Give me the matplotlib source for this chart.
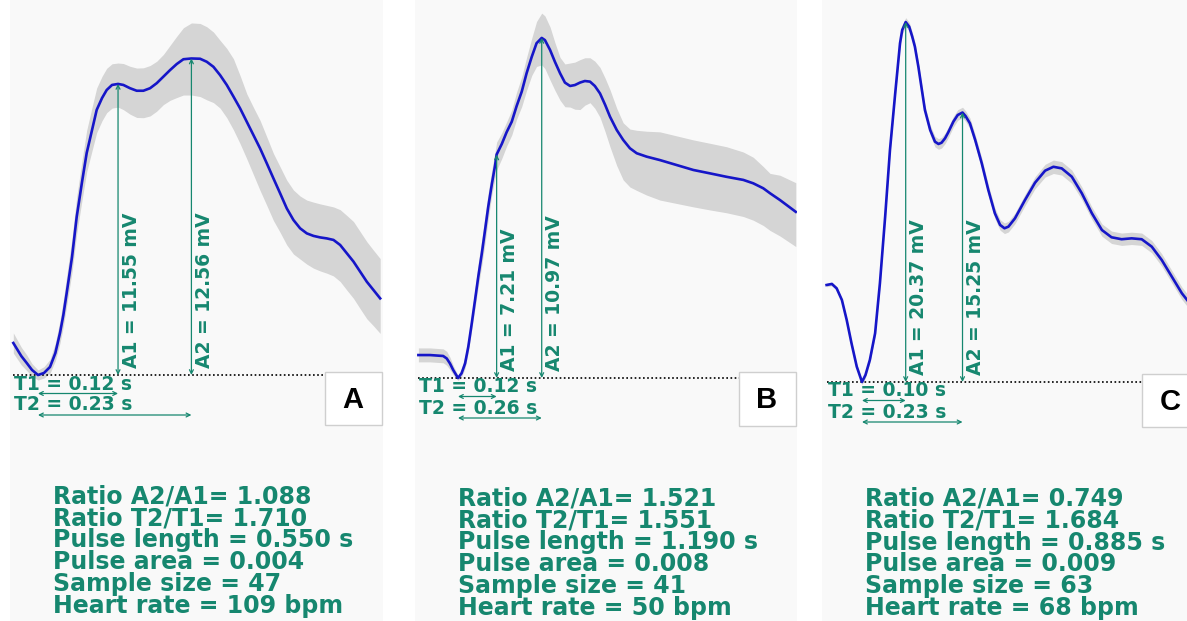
import matplotlib.pyplot as plt
from matplotlib import transforms
from matplotlib.patches import Rectangle

# ---- panel A : mean pulse (s, mV) with upper / lower band widths (mV) ----
a_t = [-0.037, -0.025, -0.017, -0.009, 0.0, 0.009, 0.018, 0.026, 0.033, 0.038,
       0.043, 0.051, 0.058, 0.066, 0.073, 0.081, 0.088, 0.096, 0.103, 0.111,
       0.12, 0.128, 0.138, 0.148, 0.158, 0.168, 0.178, 0.188, 0.198, 0.208,
       0.218, 0.23, 0.243, 0.253, 0.263, 0.273, 0.283, 0.293, 0.303, 0.313,
       0.323, 0.333, 0.343, 0.353, 0.363, 0.373, 0.383, 0.393, 0.403, 0.413,
       0.423, 0.433, 0.443, 0.453, 0.463, 0.473, 0.483, 0.493, 0.503, 0.513]
a_v = [1.27, 0.75, 0.48, 0.20, 0.0, 0.08, 0.32, 0.87, 1.67, 2.38,
       3.25, 4.68, 6.27, 7.66, 8.81, 9.72, 10.52, 10.99, 11.31, 11.51,
       11.55, 11.51, 11.38, 11.28, 11.28, 11.38, 11.58, 11.84, 12.10, 12.34,
       12.53, 12.56, 12.55, 12.43, 12.23, 11.90, 11.51, 11.05, 10.58, 10.05,
       9.52, 8.99, 8.40, 7.80, 7.21, 6.61, 6.15, 5.82, 5.62, 5.52,
       5.46, 5.42, 5.36, 5.16, 4.83, 4.50, 4.10, 3.70, 3.37, 3.04]
a_up = [0.40, 0.35, 0.32, 0.25, 0.20, 0.25, 0.30, 0.40, 0.50, 0.60,
        0.68, 0.75, 0.80, 0.85, 0.90, 0.90, 0.87, 0.86, 0.86, 0.84,
        0.83, 0.85, 0.87, 0.90, 0.91, 0.90, 0.87, 0.88, 0.98, 1.10,
        1.25, 1.41, 1.40, 1.39, 1.38, 1.38, 1.45, 1.50, 1.30, 1.11,
        1.10, 1.11, 1.05, 0.99, 1.05, 1.12, 1.19, 1.28, 1.32, 1.34,
        1.33, 1.31, 1.31, 1.40, 1.50, 1.59, 1.59, 1.59, 1.58, 1.58]
a_dn = [0.40, 0.35, 0.30, 0.25, 0.20, 0.20, 0.25, 0.30, 0.40, 0.45,
        0.50, 0.60, 0.67, 0.72, 0.75, 0.82, 0.90, 0.90, 0.90, 0.92,
        0.92, 0.98, 1.03, 1.06, 1.07, 1.10, 1.11, 1.11, 1.20, 1.33,
        1.42, 1.45, 1.50, 1.51, 1.42, 1.31, 1.30, 1.32, 1.40, 1.47,
        1.57, 1.67, 1.67, 1.67, 1.55, 1.45, 1.35, 1.22, 1.22, 1.28,
        1.33, 1.38, 1.43, 1.45, 1.46, 1.46, 1.47, 1.47, 1.42, 1.39]

# ---- panel B ----
b_t = [-0.123, -0.087, -0.046, -0.035, -0.025, -0.015, 0.0, 0.011, 0.022, 0.032,
       0.042, 0.053, 0.063, 0.074, 0.084, 0.094, 0.105, 0.115, 0.12, 0.136,
       0.151, 0.167, 0.182, 0.198, 0.213, 0.229, 0.244, 0.26, 0.270, 0.286,
       0.301, 0.317, 0.332, 0.348, 0.363, 0.379, 0.394, 0.410, 0.425, 0.441,
       0.457, 0.472, 0.493, 0.513, 0.534, 0.555, 0.586, 0.627, 0.679, 0.731,
       0.783, 0.834, 0.886, 0.917, 0.948, 0.969, 1.0, 1.049]
b_v = [0.74, 0.74, 0.71, 0.63, 0.47, 0.26, 0.0, 0.15, 0.47, 1.01,
       1.71, 2.52, 3.27, 4.02, 4.77, 5.53, 6.25, 6.85, 7.21, 7.55,
       7.93, 8.27, 8.77, 9.24, 9.83, 10.36, 10.80, 10.97, 10.90, 10.58,
       10.20, 9.83, 9.53, 9.42, 9.45, 9.53, 9.58, 9.56, 9.42, 9.18,
       8.81, 8.43, 8.00, 7.68, 7.41, 7.25, 7.14, 7.03, 6.87, 6.71,
       6.60, 6.49, 6.39, 6.28, 6.12, 5.96, 5.74, 5.36]
b_up = [0.23, 0.23, 0.23, 0.23, 0.20, 0.15, 0.08, 0.15, 0.25, 0.28,
        0.32, 0.38, 0.45, 0.46, 0.46, 0.46, 0.46, 0.44, 0.40, 0.36,
        0.33, 0.38, 0.45, 0.48, 0.51, 0.60, 0.70, 0.80, 0.78, 0.74,
        0.62, 0.51, 0.60, 0.74, 0.74, 0.74, 0.75, 0.77, 0.80, 0.84,
        0.86, 0.87, 0.70, 0.55, 0.62, 0.74, 0.82, 0.91, 0.94, 0.97,
        0.97, 0.97, 0.90, 0.84, 0.70, 0.64, 0.80, 0.94]
b_dn = [0.22, 0.22, 0.22, 0.22, 0.20, 0.15, 0.08, 0.12, 0.15, 0.18,
        0.20, 0.26, 0.32, 0.38, 0.42, 0.40, 0.34, 0.40, 0.50, 0.47,
        0.45, 0.43, 0.42, 0.48, 0.55, 0.60, 0.75, 0.87, 0.92, 0.97,
        0.92, 0.87, 0.78, 0.68, 0.78, 0.87, 0.78, 0.68, 0.72, 0.77,
        0.87, 0.97, 1.15, 1.29, 1.25, 1.20, 1.24, 1.29, 1.24, 1.19,
        1.18, 1.16, 1.18, 1.19, 1.20, 1.20, 1.16, 1.12]

# ---- panel C ----
c_t = [-0.081, -0.069, -0.058, -0.046, -0.035, -0.024, -0.012, 0.0, 0.008, 0.018,
       0.030, 0.041, 0.053, 0.064, 0.076, 0.087, 0.092, 0.10, 0.108, 0.115,
       0.121, 0.129, 0.137, 0.144, 0.156, 0.167, 0.175, 0.182, 0.190, 0.197,
       0.209, 0.219, 0.23, 0.237, 0.247, 0.259, 0.274, 0.289, 0.304, 0.316,
       0.326, 0.335, 0.350, 0.373, 0.396, 0.419, 0.438, 0.457, 0.480, 0.503,
       0.526, 0.549, 0.571, 0.594, 0.617, 0.640, 0.663, 0.686, 0.709, 0.732,
       0.744]
c_v = [5.49, 5.55, 5.30, 4.64, 3.51, 2.19, 0.87, 0.0, 0.40, 1.25,
       2.76, 5.59, 9.36, 13.13, 16.34, 19.17, 19.92, 20.37, 20.11, 19.54,
       18.98, 17.84, 16.53, 15.39, 14.26, 13.60, 13.47, 13.54, 13.79, 14.11,
       14.73, 15.11, 15.25, 15.05, 14.64, 13.70, 12.38, 10.87, 9.55, 8.89,
       8.70, 8.79, 9.26, 10.30, 11.28, 11.96, 12.18, 12.09, 11.62, 10.68,
       9.55, 8.60, 8.19, 8.08, 8.13, 8.08, 7.66, 6.90, 5.96, 5.02,
       4.64]
c_sd = [0.10, 0.10, 0.10, 0.10, 0.10, 0.12, 0.14, 0.15, 0.15, 0.15,
        0.18, 0.20, 0.20, 0.20, 0.22, 0.24, 0.25, 0.25, 0.25, 0.25,
        0.25, 0.25, 0.25, 0.26, 0.28, 0.30, 0.30, 0.30, 0.30, 0.30,
        0.30, 0.30, 0.30, 0.30, 0.30, 0.30, 0.30, 0.30, 0.30, 0.30,
        0.30, 0.30, 0.30, 0.32, 0.34, 0.36, 0.38, 0.38, 0.38, 0.36,
        0.35, 0.35, 0.35, 0.35, 0.35, 0.35, 0.35, 0.35, 0.35, 0.35,
        0.35]

names = ["A", "B", "C"]
t1 = [0.12, 0.12, 0.10]
t2 = [0.23, 0.26, 0.23]
amp1 = [11.55, 7.21, 20.37]
amp2 = [12.56, 10.97, 15.25]
ratio_a = ["1.088", "1.521", "0.749"]
ratio_t = ["1.710", "1.551", "1.684"]
pulse_len = ["0.550", "1.190", "0.885"]
pulse_area = ["0.004", "0.008", "0.009"]
sample_size = [47, 41, 63]
heart_rate = [109, 50, 68]

GREEN = "#16876f"
BLUE = "#1616c8"
W, H = 1187, 621

fig = plt.figure(figsize=(W / 100, H / 100), dpi=100)
fig.patch.set_facecolor("white")

# pixel geometry of each panel: column x0..x1, baseline row, t=0 column, px per s, px per mV
geom = [
    dict(x0=10, x1=383, base=375, tz=38, pps=667, ppm=25.2, box=(325, 372, 382, 425), txt=(53, 504, 21.7)),
    dict(x0=415, x1=797, base=378, tz=458, pps=322, ppm=31.0, box=(739, 372, 796, 426), txt=(458, 505, 22.0)),
    dict(x0=822, x1=1187, base=382, tz=862, pps=437, ppm=17.67, box=(1142, 374, 1200, 427), txt=(865, 506, 21.8)),
]

curves = [
    (a_t, a_v, a_up, a_dn),
    (b_t, b_v, b_up, b_dn),
    (c_t, c_v, c_sd, c_sd),
]

for i, g in enumerate(geom):
    ax = fig.add_axes([g["x0"] / W, 0, (g["x1"] - g["x0"]) / W, 1])
    ax.set_facecolor("#f9f9f9")
    for s in ax.spines.values():
        s.set_visible(False)
    ax.set_xticks([])
    ax.set_yticks([])
    ax.set_xlim((g["x0"] - g["tz"]) / g["pps"], (g["x1"] - g["tz"]) / g["pps"])
    ax.set_ylim((g["base"] - H) / g["ppm"], g["base"] / g["ppm"])

    t, v, up, dn = curves[i]
    ax.fill_between(t, [a - b for a, b in zip(v, dn)], [a + b for a, b in zip(v, up)],
                    color="#d5d5d5", lw=0, zorder=1)
    ax.plot(t, v, color=BLUE, lw=1.9, zorder=3, solid_joinstyle="round")

    # box with panel letter
    bx0, by0, bx1, by1 = g["box"]
    box_left = (bx0 - g["tz"]) / g["pps"]
    ax.hlines(0, t[0], box_left, colors="k", linestyles=(0, (1, 1.5)), lw=1.2, zorder=2)
    ax.add_patch(Rectangle((bx0 / W, 1 - by1 / H), (bx1 - bx0) / W, (by1 - by0) / H,
                           transform=fig.transFigure, facecolor="white",
                           edgecolor="#cfcfcf", lw=1, zorder=4, clip_on=False))
    fig.text((bx0 + 28) / W, 1 - ((by0 + by1) / 2 + 1) / H, names[i],
             family="Liberation Sans", weight="bold", fontsize=21,
             ha="center", va="center", zorder=5)

    arrow = dict(arrowstyle="<->", color=GREEN, lw=0.9, shrinkA=0, shrinkB=0, mutation_scale=7)

    # amplitude arrows and labels
    lab_tr = transforms.offset_copy(ax.transData, fig=fig, x=3.5, y=7, units="dots")
    for tp, amp, nm in [(t1[i], amp1[i], "A1"), (t2[i], amp2[i], "A2")]:
        ax.annotate("", xy=(tp, amp), xytext=(tp, 0), arrowprops=arrow, zorder=3)
        ax.text(tp, 0, f"{nm} = {amp:.2f} mV", transform=lab_tr, rotation=90,
                ha="left", va="bottom", color=GREEN, fontsize=13.5, weight="bold")

    # time arrows and labels
    for k, (tp, nm) in enumerate([(t1[i], "T1"), (t2[i], "T2")]):
        tr_txt = transforms.offset_copy(ax.transData, fig=fig, x=1, y=-(9 + 21 * k), units="dots")
        tr_arr = transforms.offset_copy(ax.transData, fig=fig, y=-(18.5 + 21.5 * k), units="dots")
        ax.text(t[0], 0, f"{nm} = {tp:.2f} s", transform=tr_txt, ha="left", va="center",
                color=GREEN, fontsize=13.5, weight="bold", zorder=5)
        ax.annotate("", xy=(tp, 0), xytext=(0, 0), xycoords=tr_arr, textcoords=tr_arr,
                    arrowprops=arrow)

    # summary text
    tx, ty, dy = g["txt"]
    lines = [
        f"Ratio A2/A1= {ratio_a[i]}",
        f"Ratio T2/T1= {ratio_t[i]}",
        f"Pulse length = {pulse_len[i]} s",
        f"Pulse area = {pulse_area[i]}",
        f"Sample size = {sample_size[i]}",
        f"Heart rate = {heart_rate[i]} bpm",
    ]
    for k, line in enumerate(lines):
        fig.text(tx / W, 1 - (ty + dy * k) / H, line, color=GREEN, fontsize=17,
                 weight="bold", ha="left", va="baseline")

fig.savefig("out.png", dpi=100)
